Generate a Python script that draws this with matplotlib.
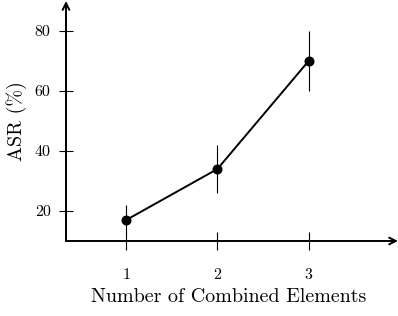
import matplotlib
matplotlib.use("Agg")
import matplotlib.pyplot as plt

# data
n_elements = [1, 2, 3]
asr = [17, 34, 70]
asr_err = [5, 8, 10]
x_ticks = [1, 2, 3]
y_ticks = [20, 40, 60, 80]

plt.rcParams['font.family'] = 'serif'
plt.rcParams['font.serif'] = ['cmr10', 'DejaVu Serif']
plt.rcParams['mathtext.fontset'] = 'cm'
plt.rcParams['axes.unicode_minus'] = False

W, H = 398, 316
fig = plt.figure(figsize=(W / 100, H / 100), dpi=100)
ax = fig.add_axes([66 / W, (H - 241) / H, (W - 66) / W, 240 / H])

ax.errorbar(n_elements, asr, yerr=asr_err, color='black', lw=1.4,
            marker='o', ms=6.2, elinewidth=0.8, ecolor='black', capsize=0,
            clip_on=False, zorder=3)

ax.set_xlim(0.34, 3.98)
ax.set_ylim(10, 90)
ax.set_xticks(x_ticks)
ax.set_yticks(y_ticks)

for s in ax.spines.values():
    s.set_visible(False)

# axis lines with arrow heads
ax.annotate('', xy=(1.0, 0), xytext=(0, 0), xycoords='axes fraction',
            arrowprops=dict(arrowstyle='->', lw=1.4, color='black',
                            shrinkA=0, shrinkB=0, mutation_scale=12))
ax.annotate('', xy=(0, 1.0), xytext=(0, 0), xycoords='axes fraction',
            arrowprops=dict(arrowstyle='->', lw=1.4, color='black',
                            shrinkA=0, shrinkB=0, mutation_scale=12))

ax.tick_params(axis='x', direction='inout', length=13, width=0.8,
               pad=13, labelsize=11.5)
ax.tick_params(axis='y', direction='inout', length=10, width=0.8,
               pad=6, labelsize=11.5)

ax.set_xlabel('Number of Combined Elements', fontsize=14.4, va='top')
ax.set_ylabel('ASR (%)', fontsize=14.4, va='center')
ax.xaxis.set_label_coords(0.49, -0.195)
ax.yaxis.set_label_coords(-0.148, 0.5)

fig.savefig('out.png', dpi=100)
